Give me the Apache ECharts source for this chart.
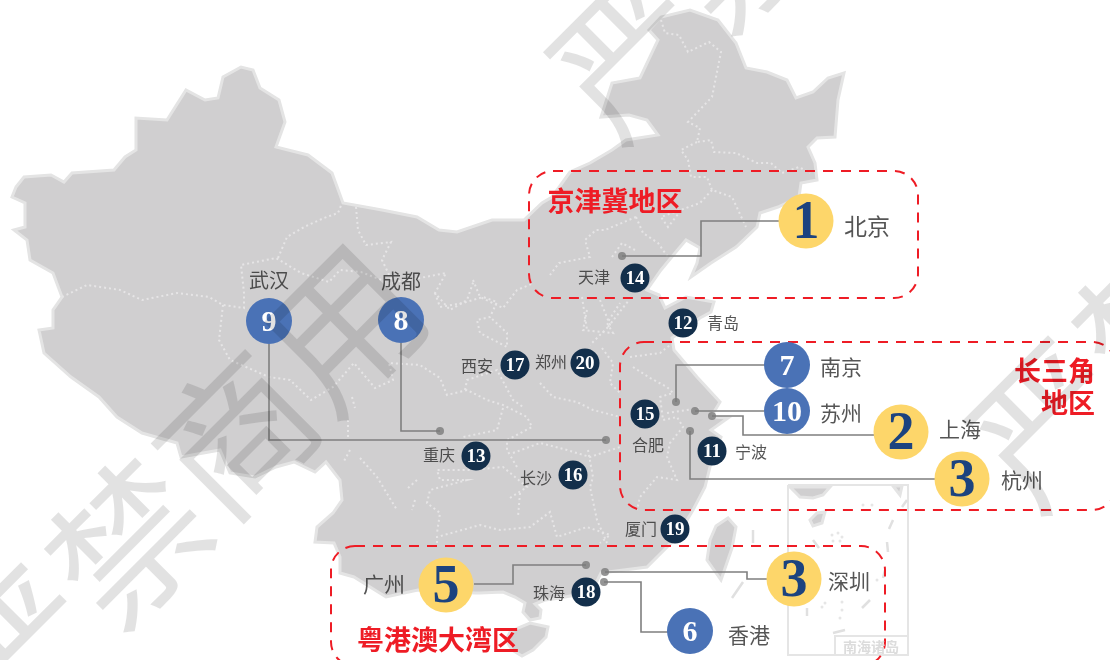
<!DOCTYPE html>
<html><head><meta charset="utf-8">
<style>html,body{margin:0;padding:0;background:#fff}#c{width:1110px;height:660px}</style>
<script src="https://cdn.jsdelivr.net/npm/echarts@6/dist/echarts.min.js"></script>
</head><body><div id="c"></div>
<script>
// Ranked cities
const cityNames = ['北京','上海','杭州','深圳','广州','香港','南京','成都','武汉','苏州','宁波','青岛','重庆','天津','合肥','长沙','西安','珠海','厦门','郑州'];
const cityRanks = [1,2,3,3,5,6,7,8,9,10,11,12,13,14,15,16,17,18,19,20];
const regionTitles = ['京津冀地区','长三角\n地区','粤港澳大湾区'];
const watermarkText = '严禁商用';

// Map-space anchors (the map is a schematic whose coordinate space equals the picture)
const badgeAt = {'北京':[806,221],'上海':[901,432],'杭州':[962,479],'深圳':[794,579],'广州':[446,585],'香港':[690,631],'南京':[787,365],'成都':[401,320],'武汉':[269,321],'苏州':[787,411],'宁波':[712,451],'青岛':[683,323],'重庆':[476,456],'天津':[635,278],'合肥':[645,414],'长沙':[573,475],'西安':[515,365],'珠海':[586,592],'厦门':[675,529],'郑州':[585,363]};
const nameAt = {'北京':[867,226],'上海':[960,429],'杭州':[1022,480],'深圳':[849,581],'广州':[384,584],'香港':[749,635],'南京':[841,367],'成都':[401,281],'武汉':[269,280],'苏州':[841,413],'宁波':[751,452],'青岛':[723,323],'重庆':[439,455],'天津':[594,277],'合肥':[648,445],'长沙':[536,478],'西安':[477,366],'珠海':[549,593],'厦门':[641,529],'郑州':[551,362]};

const mainland = [[16,187],[24,177],[51,175],[64,182],[72,173],[114,170],[125,157],[136,150],[136,118],[167,120],[186,90],[205,100],[218,98],[223,77],[241,67],[253,70],[260,88],[279,100],[285,122],[276,147],[308,155],[332,173],[343,203],[382,210],[417,217],[439,230],[457,232],[492,220],[524,220],[542,203],[552,197],[570,172],[590,163],[612,150],[626,140],[658,135],[647,120],[629,115],[601,117],[612,83],[640,78],[658,40],[649,30],[661,17],[690,10],[718,20],[736,43],[746,68],[767,72],[787,80],[796,98],[813,92],[828,78],[844,73],[838,100],[835,137],[817,138],[808,147],[815,163],[817,180],[801,183],[799,197],[778,207],[760,213],[757,227],[736,247],[711,263],[691,277],[697,263],[700,248],[686,240],[675,253],[661,270],[647,290],[659,295],[665,308],[686,297],[714,302],[711,312],[700,318],[672,338],[674,350],[697,377],[720,402],[711,417],[728,418],[711,430],[721,437],[711,463],[705,487],[693,510],[677,537],[647,567],[601,573],[594,587],[575,595],[560,598],[545,600],[535,604],[541,610],[540,618],[530,620],[523,612],[525,603],[515,597],[503,592],[480,593],[475,593],[418,590],[386,597],[354,577],[340,573],[340,557],[334,543],[315,542],[317,527],[333,513],[342,500],[340,480],[326,462],[315,472],[294,462],[276,467],[255,477],[230,473],[220,450],[181,457],[177,443],[142,433],[117,417],[99,397],[71,377],[44,353],[39,330],[53,328],[53,310],[62,297],[53,273],[30,260],[27,240],[14,230],[25,227],[25,203],[12,197]];
const taiwan = [[728,518],[736,527],[732,548],[721,580],[707,560],[710,540],[716,526]];
const hainan = [[510,632],[518,628],[530,623],[548,627],[546,637],[533,650],[522,656],[512,650],[506,640]];
const insetCoast = [[788,487],[790,487],[800,497],[813,498],[823,495],[830,487]];
const insetCoast2 = [[893,486],[902,486],[900,495]];
const insetHainan = [[810,520],[817,513],[825,512],[822,523],[813,526]];

const provinceBorders = [
 [[62,297],[87,285],[120,290],[142,300],[177,293],[209,297],[223,305],[244,308],[244,293],[241,265],[276,258],[301,273],[329,282],[340,270],[361,272],[389,283],[425,277],[446,273],[435,293],[450,310],[467,300],[474,280]],
 [[278,258],[287,237],[304,227],[324,218],[338,213],[342,203]],
 [[356,207],[358,230],[366,245],[391,242],[382,260],[393,283]],
 [[223,305],[219,340],[230,360],[269,377],[290,380],[311,400],[333,387],[354,363],[375,388],[393,380],[389,363],[420,365],[440,378],[447,395],[467,390],[487,400],[503,405],[527,417],[532,427],[507,440],[507,450],[517,467]],
 [[503,408],[497,430],[463,437]],
 [[540,383],[553,397],[577,402],[593,410],[620,417]],
 [[465,390],[467,380],[497,370],[513,400],[523,407]],
 [[435,293],[440,307],[463,303],[483,297],[497,302],[490,317],[477,320],[480,333],[507,347],[507,333],[490,317]],
 [[473,280],[480,297],[503,308],[517,290],[534,283]],
 [[587,310],[583,330],[613,333],[607,323],[620,303]],
 [[602,348],[613,363],[610,383],[620,393]],
 [[513,453],[540,443],[567,450],[590,457],[620,447]],
 [[588,450],[593,477],[590,487],[597,520],[607,543]],
 [[437,543],[437,537],[480,525],[500,530],[530,527],[550,512],[557,537],[587,527],[610,535],[600,543]],
 [[510,498],[527,487],[503,467],[470,470],[437,470],[440,480],[467,480],[430,490],[427,503],[440,513],[437,533]],
 [[520,493],[518,517]],
 [[360,458],[377,477],[397,510]],
 [[417,480],[408,488]],[[415,500],[412,510]],[[350,450],[343,463]],[[352,397],[355,408]],[[348,420],[348,437]],
 [[633,367],[650,378],[667,387],[673,393],[660,397],[663,420],[677,417],[683,427],[670,443],[667,457],[677,480],[657,477],[640,497],[637,510]],
 [[630,357],[660,353],[670,345]],
 [[667,413],[700,408]],
 [[661,20],[665,33],[679,35],[688,52],[709,42],[721,52],[716,77],[712,97],[688,122],[700,128],[697,142],[711,140],[714,152],[736,153],[757,163],[771,163],[782,173],[799,167],[810,173]],
 [[697,142],[681,150],[688,160],[691,177],[707,177],[712,190],[732,197],[746,227]],
 [[712,190],[700,203],[661,217],[668,227],[679,213]],
 [[636,217],[605,230],[596,230],[585,240],[590,257],[559,263],[550,275]],
 [[636,217],[643,233],[658,243],[668,257]],
 [[612,257],[622,243],[635,250]],
 [[582,297],[587,330]],[[608,327],[629,300]],
 [[600,300],[610,325],[590,345]]
];

const leaderLines = [
 [[622,256],[701,256],[701,221],[780,221]],
 [[269,344],[269,440],[606,440]],
 [[401,343],[401,431],[440,431]],
 [[676,402],[676,365],[766,365]],
 [[695,411],[764,411]],
 [[712,416],[743,416],[743,435],[874,435]],
 [[690,431],[690,479],[935,479]],
 [[605,572],[747,572],[747,579],[767,579]],
 [[604,582],[641,582],[641,632],[668,632]],
 [[474,584],[513,584],[513,565],[586,565]]
];
const leaderDots = [[622,256],[606,440],[440,431],[676,402],[695,411],[712,416],[690,431],[605,572],[604,582],[586,565]];
const insetFrame = [[[788,485],[908,485],[908,655],[788,655],[788,485]],[[835,655],[835,636],[908,636]]];
const dashes = [[[907,500],[902,507]],[[893,520],[889,529]],[[887,542],[888,552]],[[885,570],[883,578]],[[870,600],[862,608]],[[845,630],[833,633]],[[807,608],[807,616]],[[813,540],[819,548]],[[753,530],[753,543]],[[743,582],[732,598]]];
const islands = [[832,535],[838,533],[842,537],[833,541],[840,541],[822,607],[825,603],[842,602],[842,610],[840,618],[877,580],[863,505],[872,505]];

function poly(name, ring){return {type:'Feature',properties:{name},geometry:{type:'Polygon',coordinates:[ring.concat([ring[0]])]}};}
echarts.registerMap('cn',{type:'FeatureCollection',features:[
 poly('mainland',mainland),poly('taiwan',taiwan),poly('hainan',hainan),
 poly('inset1',insetCoast),poly('inset2',insetCoast2),poly('inset3',insetHainan)]});

const GOLD=[0,1,2,3,4], BLUE=[5,6,7,8,9];
const SERIF='"Liberation Serif",serif', CJK='"Noto Sans CJK SC",sans-serif';
function badge(idxs,size,color,numColor,fs,dy){
 return {type:'scatter',coordinateSystem:'geo',z:20,silent:true,symbol:'circle',symbolSize:size,
  itemStyle:{color,opacity:1},
  label:{show:true,position:'inside',offset:[0,dy],color:numColor,fontFamily:SERIF,fontWeight:'bold',fontSize:fs,formatter:p=>p.value[2]},
  data:idxs.map(i=>({name:cityNames[i],value:[...badgeAt[cityNames[i]],cityRanks[i]]}))};
}
function names(idxs,fs){
 return {type:'scatter',coordinateSystem:'geo',z:21,silent:true,symbolSize:1,itemStyle:{color:'rgba(0,0,0,0)'},
  label:{show:true,position:'inside',color:'#2b2b2b',fontFamily:CJK,fontSize:fs,formatter:p=>p.name},
  data:idxs.map(i=>({name:cityNames[i],value:nameAt[cityNames[i]]}))};
}
const rest=cityNames.map((_,i)=>i).slice(10);
const wm=(x,y)=>({type:'text',z:100,silent:true,x,y,rotation:Math.PI/4,
  style:{text:watermarkText,fontFamily:CJK,fontSize:152,fontWeight:'normal',fill:'rgba(0,0,0,0.115)',align:'center',verticalAlign:'middle'}});
const box=(x,y,w,h)=>({type:'rect',z:10,silent:true,shape:{x,y,width:w,height:h,r:24},
  style:{fill:'none',stroke:'#ee1c25',lineWidth:2,lineDash:[10,8]}});
const head=(text,x,y,align)=>({type:'text',z:22,silent:true,x,y,
  style:{text,fontFamily:CJK,fontWeight:'bold',fontSize:27,lineHeight:32,fill:'#ee1c25',align,verticalAlign:'middle'}});

const chart=echarts.init(document.getElementById('c'),null,{renderer:'canvas'});
chart.setOption({
 animation:false,backgroundColor:'#fff',
 geo:{map:'cn',silent:true,roam:false,left:0,top:0,width:1110,height:660,
  boundingCoords:[[0,0],[1110,660]],
  projection:{project:p=>p,unproject:p=>p},
  itemStyle:{areaColor:'#d0cfd0',borderColor:'#e4e4e4',borderWidth:3},
  label:{show:false},emphasis:{disabled:true}},
 graphic:[
  box(529,171,389,127),box(620,342,496,168),box(331,546,554,120),
  head(regionTitles[0],615,201,'center'),head(regionTitles[1],1095,387,'right'),head(regionTitles[2],438,640,'center'),
  {type:'text',z:11,silent:true,x:871,y:647,style:{text:'南海诸岛',fontFamily:CJK,fontWeight:'bold',fontSize:14,fill:'#dcdcdc',align:'center',verticalAlign:'middle'}},
  wm(182,488),wm(790,-108),wm(1209,261)
 ],
 series:[
  {type:'lines',coordinateSystem:'geo',polyline:true,silent:true,z:3,lineStyle:{color:'#e6e5e6',width:2,type:[2,3],opacity:1},
   data:provinceBorders.map(c=>({coords:c}))},
  {type:'lines',coordinateSystem:'geo',polyline:true,silent:true,z:3,lineStyle:{color:'#e5e5e5',width:2,opacity:1},
   data:insetFrame.map(c=>({coords:c}))},
  {type:'lines',coordinateSystem:'geo',polyline:true,silent:true,z:3,lineStyle:{color:'#e0e0e0',width:2.5,opacity:1},
   data:dashes.map(c=>({coords:c}))},
  {type:'scatter',coordinateSystem:'geo',silent:true,z:3,symbolSize:3,itemStyle:{color:'#e0e0e0'},data:islands},
  {type:'lines',coordinateSystem:'geo',polyline:true,silent:true,z:15,lineStyle:{color:'#7f7f7f',width:1.6,opacity:1},
   data:leaderLines.map(c=>({coords:c}))},
  {type:'scatter',coordinateSystem:'geo',silent:true,z:16,symbolSize:8,itemStyle:{color:'#7b7b7b'},data:leaderDots},
  badge(GOLD,55,'#fdd66a','#1c437f',54,3),
  badge(BLUE,46,'#4a72b6','#ffffff',30,2),
  badge(rest,29,'#132f4b','#ffffff',19,1),
  names([0],23),names([1,2,3,4,5,6,9],21),names([7,8],20),names(rest,16)
 ]
});
</script></body></html>
